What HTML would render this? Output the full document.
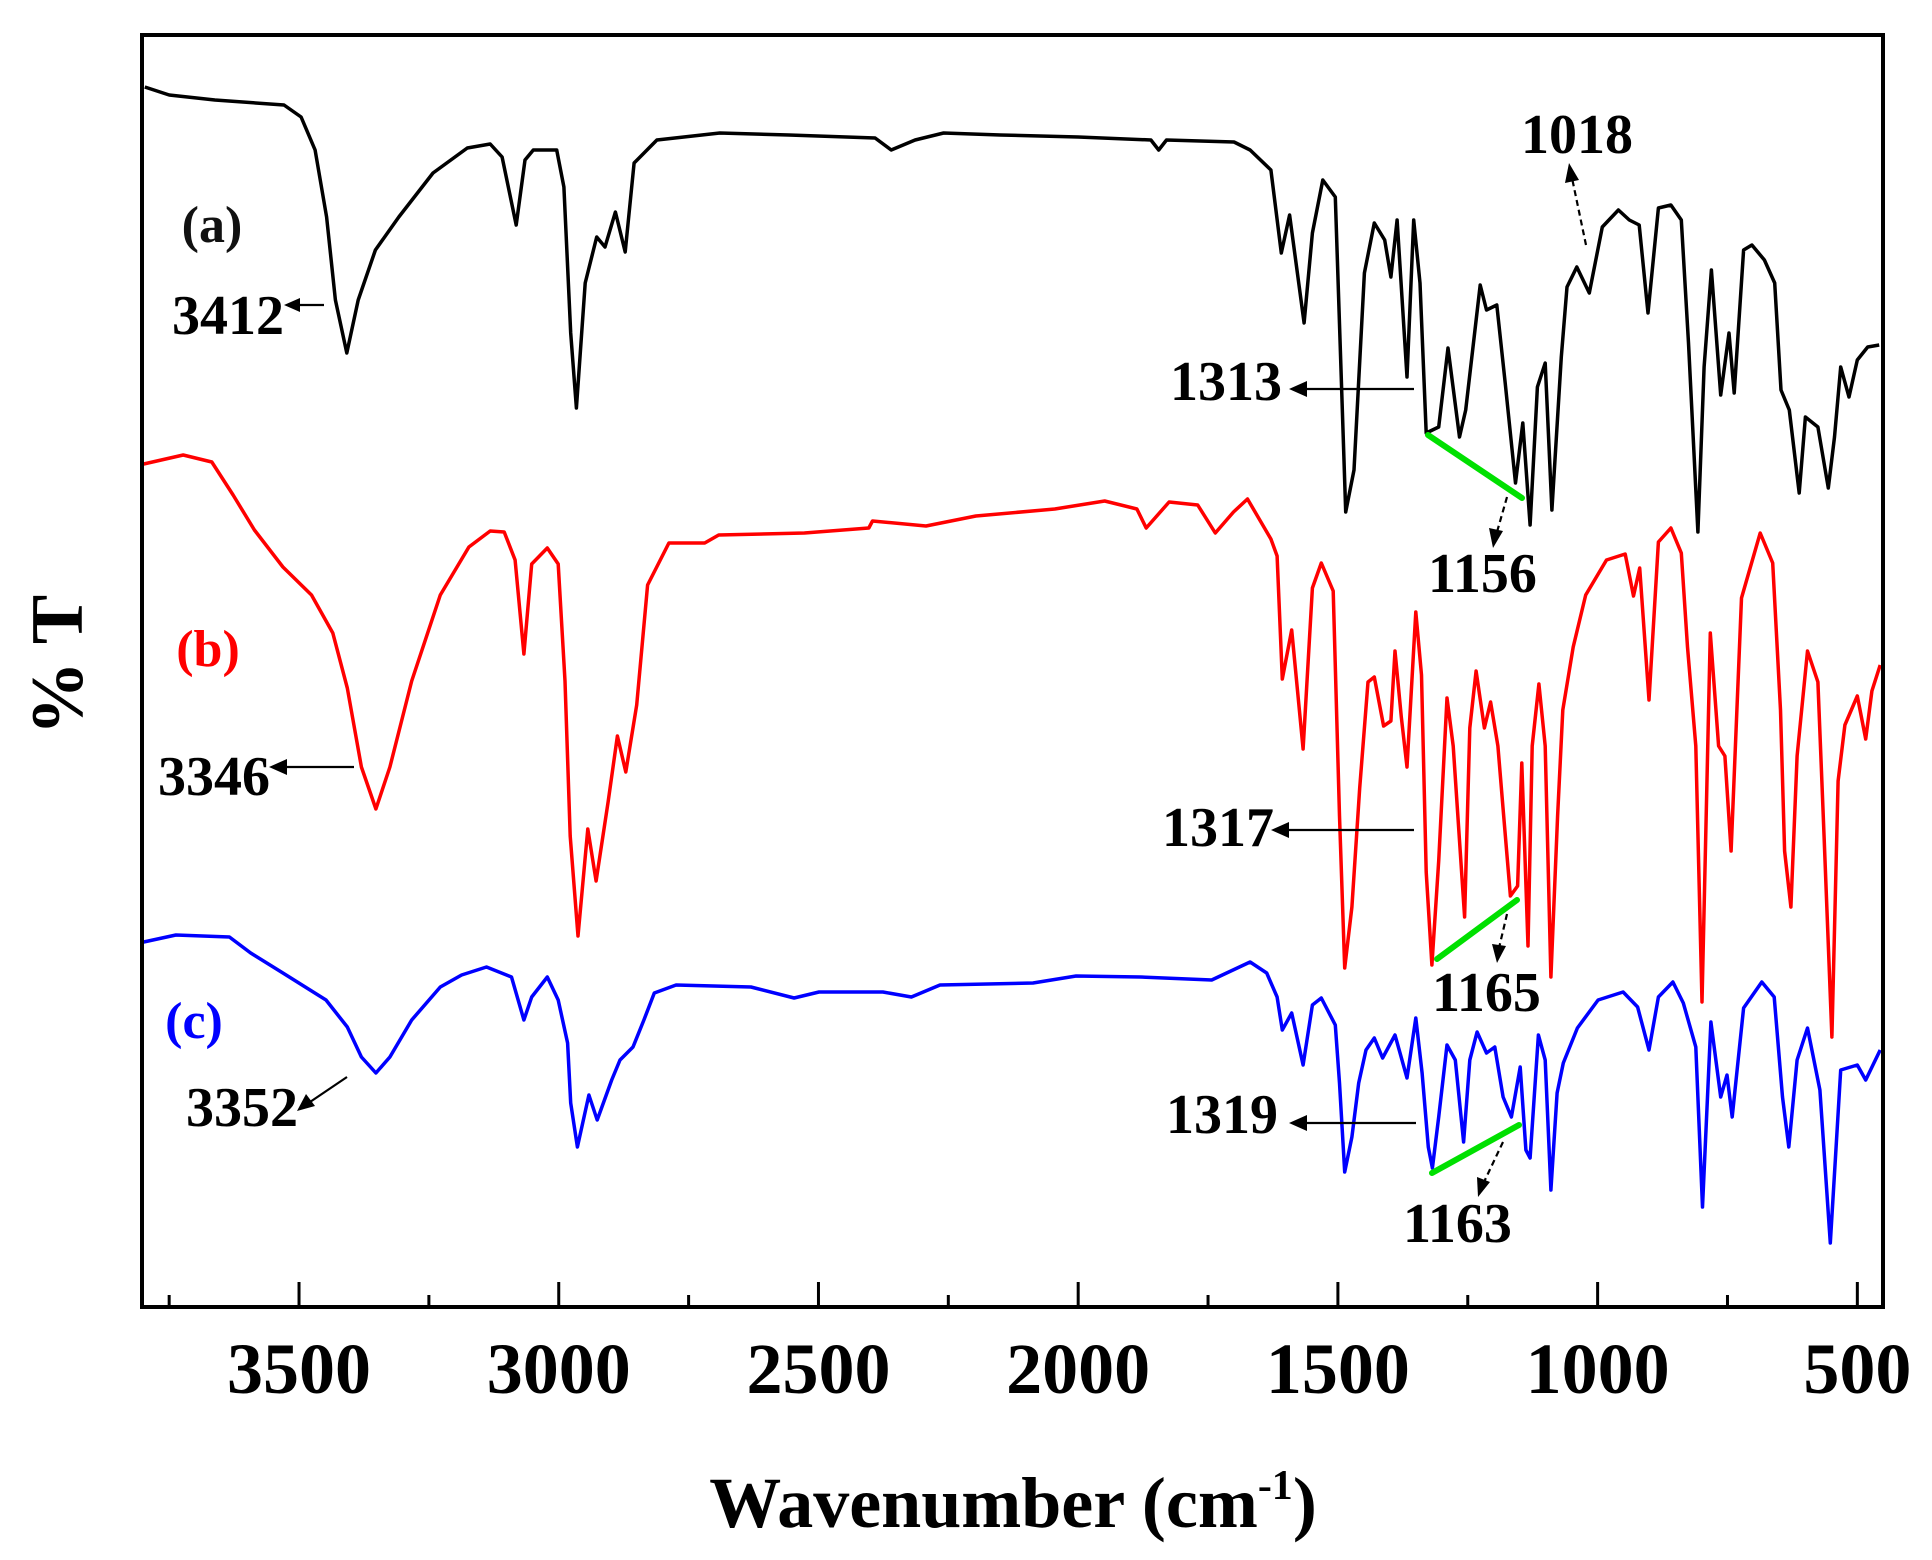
<!DOCTYPE html>
<html><head><meta charset="utf-8"><title>FTIR spectra</title>
<style>html,body{margin:0;padding:0;background:#fff}svg{display:block}text{font-family:"Liberation Serif",serif;font-weight:bold}</style>
</head><body>
<svg id="chart" width="1932" height="1560" viewBox="0 0 1932 1560" xmlns="http://www.w3.org/2000/svg">
<rect x="0" y="0" width="1932" height="1560" fill="#fff"/>
<g id="plot"></g>
<g id="axes"></g>
<g id="ann">
  <text x="212" y="242" font-size="52" text-anchor="middle" fill="#111">(a)</text>
  <text x="208" y="666" font-size="52" text-anchor="middle" fill="#f00">(b)</text>
  <text x="194" y="1038" font-size="52" text-anchor="middle" fill="#00f">(c)</text>
  <text x="172" y="334" font-size="56">3412</text>
  <text x="158" y="795" font-size="56">3346</text>
  <text x="186" y="1126" font-size="56">3352</text>
  <text x="1170" y="400" font-size="56">1313</text>
  <text x="1162" y="846" font-size="56">1317</text>
  <text x="1166" y="1133" font-size="56">1319</text>
  <text x="1428" y="592" font-size="56">1156</text>
  <text x="1432" y="1011" font-size="56">1165</text>
  <text x="1403" y="1242" font-size="56">1163</text>
  <text x="1521" y="153" font-size="56">1018</text>
  <g stroke="#000" stroke-width="2.2" fill="none">
    <line x1="324" y1="305" x2="296" y2="305"/>
    <line x1="354" y1="767" x2="282" y2="767"/>
    <line x1="347" y1="1077" x2="310" y2="1102"/>
    <line x1="1414" y1="389" x2="1302" y2="389"/>
    <line x1="1414" y1="830" x2="1284" y2="830"/>
    <line x1="1416" y1="1123" x2="1302" y2="1123"/>
    <line x1="1507" y1="497" x2="1497" y2="532" stroke-dasharray="6,4"/>
    <line x1="1507" y1="914" x2="1499" y2="948" stroke-dasharray="6,4"/>
    <line x1="1503" y1="1142" x2="1484" y2="1182" stroke-dasharray="6,4"/>
    <line x1="1586" y1="245" x2="1572" y2="178" stroke-dasharray="6,4"/>
  </g>
  <g fill="#000">
    <polygon points="284,305 300,298 300,312"/>
    <polygon points="269,767 287,759 287,775"/>
    <polygon points="297,1111 306,1094 315,1106"/>
    <polygon points="1289,389 1307,381 1307,397"/>
    <polygon points="1271,830 1289,822 1289,838"/>
    <polygon points="1289,1123 1307,1115 1307,1131"/>
    <polygon points="1493,548 1489,528 1503,531"/>
    <polygon points="1497,963 1492,944 1506,946"/>
    <polygon points="1478,1197 1477,1177 1490,1182"/>
    <polygon points="1569,163 1565,183 1579,180"/>
  </g>
  <g stroke="#00e000" stroke-width="6" stroke-linecap="round">
    <line x1="1428" y1="435" x2="1522" y2="498"/>
    <line x1="1437" y1="959" x2="1517" y2="900"/>
    <line x1="1432" y1="1173" x2="1519" y2="1125"/>
  </g>
</g>
<text transform="translate(82,665) rotate(-90)" font-size="74" text-anchor="middle">% T</text>
<text x="1013" y="1527" font-size="72" text-anchor="middle">Wavenumber (cm<tspan dy="-28" font-size="42">-1</tspan><tspan dy="28">)</tspan></text>
</svg>
<script>
const seriesAWave = [3797,3750,3662,3529,3496,3469,3447,3430,3408,3386,3353,3308,3242,3176,3132,3109,3082,3065,3049,3004,2990,2977,2966,2949,2927,2911,2891,2872,2855,2811,2690,2557,2391,2360,2314,2259,2150,2000,1860,1845,1830,1700,1669,1629,1609,1593,1565,1549,1529,1505,1485,1469,1449,1430,1410,1398,1386,1367,1354,1342,1330,1306,1288,1266,1254,1226,1214,1194,1178,1158,1144,1130,1116,1101,1088,1070,1059,1040,1016,991,960,939,920,903,883,859,839,825,807,795,781,763,747,737,719,703,679,659,647,631,612,600,576,556,544,532,516,500,480,458];
const seriesAValue = [122.3,121.5,121,120.5,119.3,116,109.3,101,95.7,101,106,109.3,113.7,116.2,116.6,115.3,108.5,115,116,116,112.3,97.7,90.2,102.7,107.3,106.3,109.8,105.8,114.7,117,117.7,117.5,117.2,116,117,117.7,117.5,117.3,117,116,117,116.8,116,114,105.7,109.5,98.7,107.7,113,111.3,79.8,84,103.7,108.7,107,103.3,109,93.3,109,102.7,87.7,88.3,96.2,87.3,90,102.5,100,100.5,92.7,82.7,88.7,78.5,92.3,94.7,80,95.3,102.3,104.3,101.7,108.3,110,109,108.5,99.7,110.2,110.5,109,96.7,77.8,94.3,104,91.5,97.7,91.7,106,106.5,105,102.7,92,90,81.7,89.3,88.3,82.2,87.3,94.3,91.3,95,96.3,96.5];
const seriesBWave = [3799,3723,3668,3627,3586,3531,3476,3435,3407,3380,3352,3325,3283,3228,3173,3132,3105,3084,3067,3052,3022,3001,2988,2978,2963,2944,2928,2905,2887,2871,2850,2829,2788,2719,2692,2527,2403,2396,2293,2197,2045,1949,1887,1869,1825,1770,1736,1701,1674,1629,1617,1607,1589,1567,1549,1532,1509,1497,1487,1473,1458,1442,1430,1412,1398,1390,1378,1367,1350,1339,1330,1319,1306,1290,1278,1256,1246,1234,1218,1206,1192,1182,1168,1154,1146,1134,1126,1113,1101,1090,1077,1067,1047,1023,983,947,931,919,901,883,859,839,827,811,799,783,767,755,743,723,687,663,648,640,628,616,596,576,564,549,537,524,500,484,472,456];
const seriesBValue = [84.6,85.5,84.8,81.5,78,74.3,71.5,67.7,62.2,54.3,50.1,54.3,62.9,71.5,76.3,77.9,77.8,75,65.6,74.6,76.2,74.6,62.9,47.4,37.4,48.1,42.9,50.8,57.4,53.8,60.5,72.5,76.7,76.7,77.5,77.7,78.2,78.9,78.4,79.4,80.1,80.9,80.1,78.2,80.8,80.5,77.7,79.8,81.1,77.1,75.4,63.1,68,56.1,72.2,74.7,71.9,49.4,34.2,40.3,52.2,62.8,63.3,58.4,58.9,65.9,59.3,54.3,69.8,63.5,43.8,34.5,44.9,61.2,56.4,39.3,58.2,63.9,58.2,60.8,56.4,50.1,41.4,42.4,54.7,36.4,56.4,62.6,56.4,33.3,49.4,60,66.3,71.5,75,75.6,71.4,74.2,61,76.8,78.2,75.7,66.3,56.4,30.8,67.7,56.4,55.4,45.9,71.2,77.7,74.7,60,45.9,40.3,55.4,65.9,62.8,47.3,27.3,52.9,58.5,61.4,57.1,61.9,64.5];
const seriesCWave = [3799,3737,3634,3593,3531,3448,3407,3380,3352,3325,3283,3228,3187,3139,3091,3067,3052,3022,3001,2983,2977,2964,2942,2926,2898,2882,2857,2836,2816,2774,2630,2547,2499,2376,2321,2266,2087,2004,1880,1743,1669,1637,1617,1607,1589,1567,1549,1532,1505,1497,1487,1473,1460,1446,1430,1414,1390,1367,1350,1338,1326,1318,1306,1290,1274,1258,1246,1232,1214,1198,1182,1166,1149,1138,1130,1114,1101,1090,1078,1066,1039,999,951,923,901,883,855,835,811,798,782,763,751,741,719,684,660,644,632,616,596,572,552,542,532,500,484,456];
const seriesCValue = [36.8,37.5,37.3,35.7,33.7,31,28.3,25.3,23.7,25.3,29,32.3,33.5,34.3,33.3,29,31.3,33.3,31,26.7,20.7,16.3,21.5,19,23,25,26.3,29,31.7,32.5,32.3,31.2,31.8,31.8,31.3,32.5,32.7,33.4,33.3,33,34.8,33.7,31.3,28,29.7,24.5,30.5,31.2,28.5,22.7,13.8,17.3,22.7,26,27.2,25.2,27.5,23.2,29.2,23.7,16.3,14.2,19.3,26.5,25,16.8,25,27.8,25.7,26.3,21.3,19.3,24.3,16,15.2,27.5,25,12,21.7,24.7,28.2,31,31.8,30.3,26,31.3,32.8,30.7,26.3,10.3,28.8,21.3,23.5,19.3,30.2,32.8,31.3,21.3,16.3,25,28.2,22,6.7,15.3,24,24.5,23,26];
const majorTicks = [3500,3000,2500,2000,1500,1000,500];
const tickLabels = ["3500","3000","2500","2000","1500","1000","500"];
const minorTicks = [3750,3250,2750,2250,1750,1250,750];

const NS = "http://www.w3.org/2000/svg";
const X0 = 142, X1 = 1883, Y0 = 35, Y1 = 1307;
const W_LEFT = 3802.3, W_RIGHT = 450.6;
function xScale(w){ return X0 + (W_LEFT - w) / (W_LEFT - W_RIGHT) * (X1 - X0); }
function yScale(v){ return 1310 - 10 * v; }
function mk(tag, attrs, parent){ const e = document.createElementNS(NS, tag); for (const k in attrs) e.setAttribute(k, attrs[k]); parent.appendChild(e); return e; }

const plot = document.getElementById('plot');
const axes = document.getElementById('axes');
function drawSeries(ws, vs, color, name){
  let d = '';
  for (let i = 0; i < ws.length; i++) d += (i ? 'L' : 'M') + xScale(ws[i]).toFixed(1) + ',' + yScale(vs[i]).toFixed(1);
  const p = mk('path', {d: d, fill: 'none', stroke: color, 'stroke-width': 3.5, 'stroke-linejoin': 'round'}, plot);
  
  
}
drawSeries(seriesAWave, seriesAValue, '#000', 'spectrum-a');
drawSeries(seriesBWave, seriesBValue, '#f00', 'spectrum-b');
drawSeries(seriesCWave, seriesCValue, '#00f', 'spectrum-c');

const frame = mk('rect', {x: X0, y: Y0, width: X1 - X0, height: Y1 - Y0, fill: 'none', stroke: '#000', 'stroke-width': 4}, axes);


majorTicks.forEach((t, i) => {
  const x = xScale(t);
  const tk = mk('line', {x1: x, x2: x, y1: Y1, y2: Y1 - 25, stroke: '#000', 'stroke-width': 3}, axes);
  
  
  const lb = mk('text', {x: x, y: 1393, 'font-size': 72, 'text-anchor': 'middle', fill: '#000'}, axes);
  lb.textContent = tickLabels[i];
  
  
});
minorTicks.forEach(t => {
  const x = xScale(t);
  const tk = mk('line', {x1: x, x2: x, y1: Y1, y2: Y1 - 12, stroke: '#000', 'stroke-width': 3}, axes);
  
  
});
</script>
</body></html>
